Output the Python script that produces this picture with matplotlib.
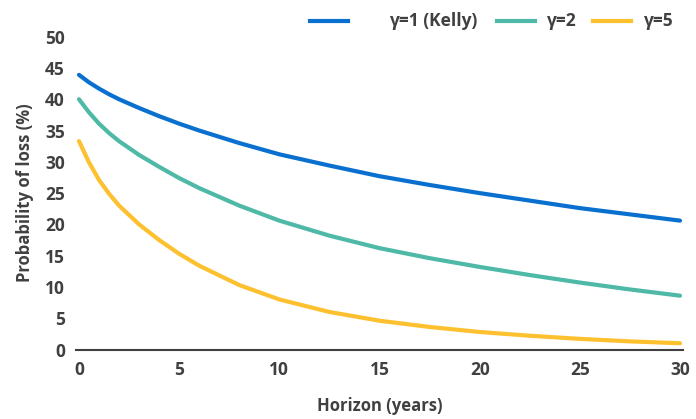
import matplotlib
matplotlib.use("Agg")
import matplotlib.pyplot as plt
from matplotlib.lines import Line2D

plt.rcParams['font.family'] = ['Open Sans', 'DejaVu Sans']

years = [0, 0.5, 1, 1.5, 2, 3, 4, 5, 6, 8, 10, 12.5, 15, 17.5, 20, 22.5, 25, 27.5, 30]
kelly = [43.9, 42.7, 41.7, 40.8, 40.0, 38.6, 37.3, 36.1, 35.0, 33.0, 31.2, 29.4, 27.7, 26.3, 25.0, 23.8, 22.6, 21.6, 20.6]
gamma2 = [40.0, 37.9, 36.1, 34.6, 33.3, 31.1, 29.2, 27.4, 25.8, 23.0, 20.6, 18.2, 16.2, 14.6, 13.2, 11.9, 10.7, 9.6, 8.6]
gamma5 = [33.3, 29.9, 27.1, 24.9, 23.0, 20.0, 17.5, 15.3, 13.4, 10.3, 8.0, 6.0, 4.6, 3.6, 2.8, 2.2, 1.7, 1.3, 1.0]

labels = ["γ=1 (Kelly)", "γ=2", "γ=5"]
colors = ["#0A70CF", "#4DB9A6", "#FDC02F"]
xticks = [0, 5, 10, 15, 20, 25, 30]
yticks = [0, 5, 10, 15, 20, 25, 30, 35, 40, 45, 50]

txt = "#404040"
fig = plt.figure(figsize=(6.96, 4.19), dpi=100)
ax = fig.add_axes([76/696, 1-349.5/419, (683-76)/696, (349.5-36.7)/419])

for s, c in zip([kelly, gamma2, gamma5], colors):
    ax.plot(years, s, color=c, lw=3, solid_capstyle='round', solid_joinstyle='round')

ax.set_xlim(-0.15, 30.15)
ax.set_ylim(0, 50)
ax.set_xticks(xticks)
ax.set_yticks(yticks)
ax.tick_params(length=0, labelsize=12.5, colors=txt, pad=8)
for t in ax.get_xticklabels() + ax.get_yticklabels():
    t.set_fontweight('bold')
for sp in ['top', 'right', 'left']:
    ax.spines[sp].set_visible(False)
ax.spines['bottom'].set_color('#404040')
ax.spines['bottom'].set_linewidth(1.5)
ax.set_xlabel("Horizon (years)", fontsize=12, fontweight='bold', color=txt, labelpad=13)
ax.set_ylabel("Probability of loss (%)", fontsize=12, fontweight='bold', color=txt, labelpad=8)

# legend at top
leg_y = 1 - 21/419
items = [(310, 348, 389), (497, 535, 546), (593, 631, 643)]
for (x0, x1, xt), lab, c in zip(items, labels, colors):
    fig.add_artist(Line2D([x0/696, x1/696], [leg_y, leg_y], color=c, lw=3, transform=fig.transFigure))
    fig.text(xt/696, leg_y, lab, fontsize=12.5, fontweight='bold', color=txt, va='center', ha='left')

fig.savefig("out.png", dpi=100)
